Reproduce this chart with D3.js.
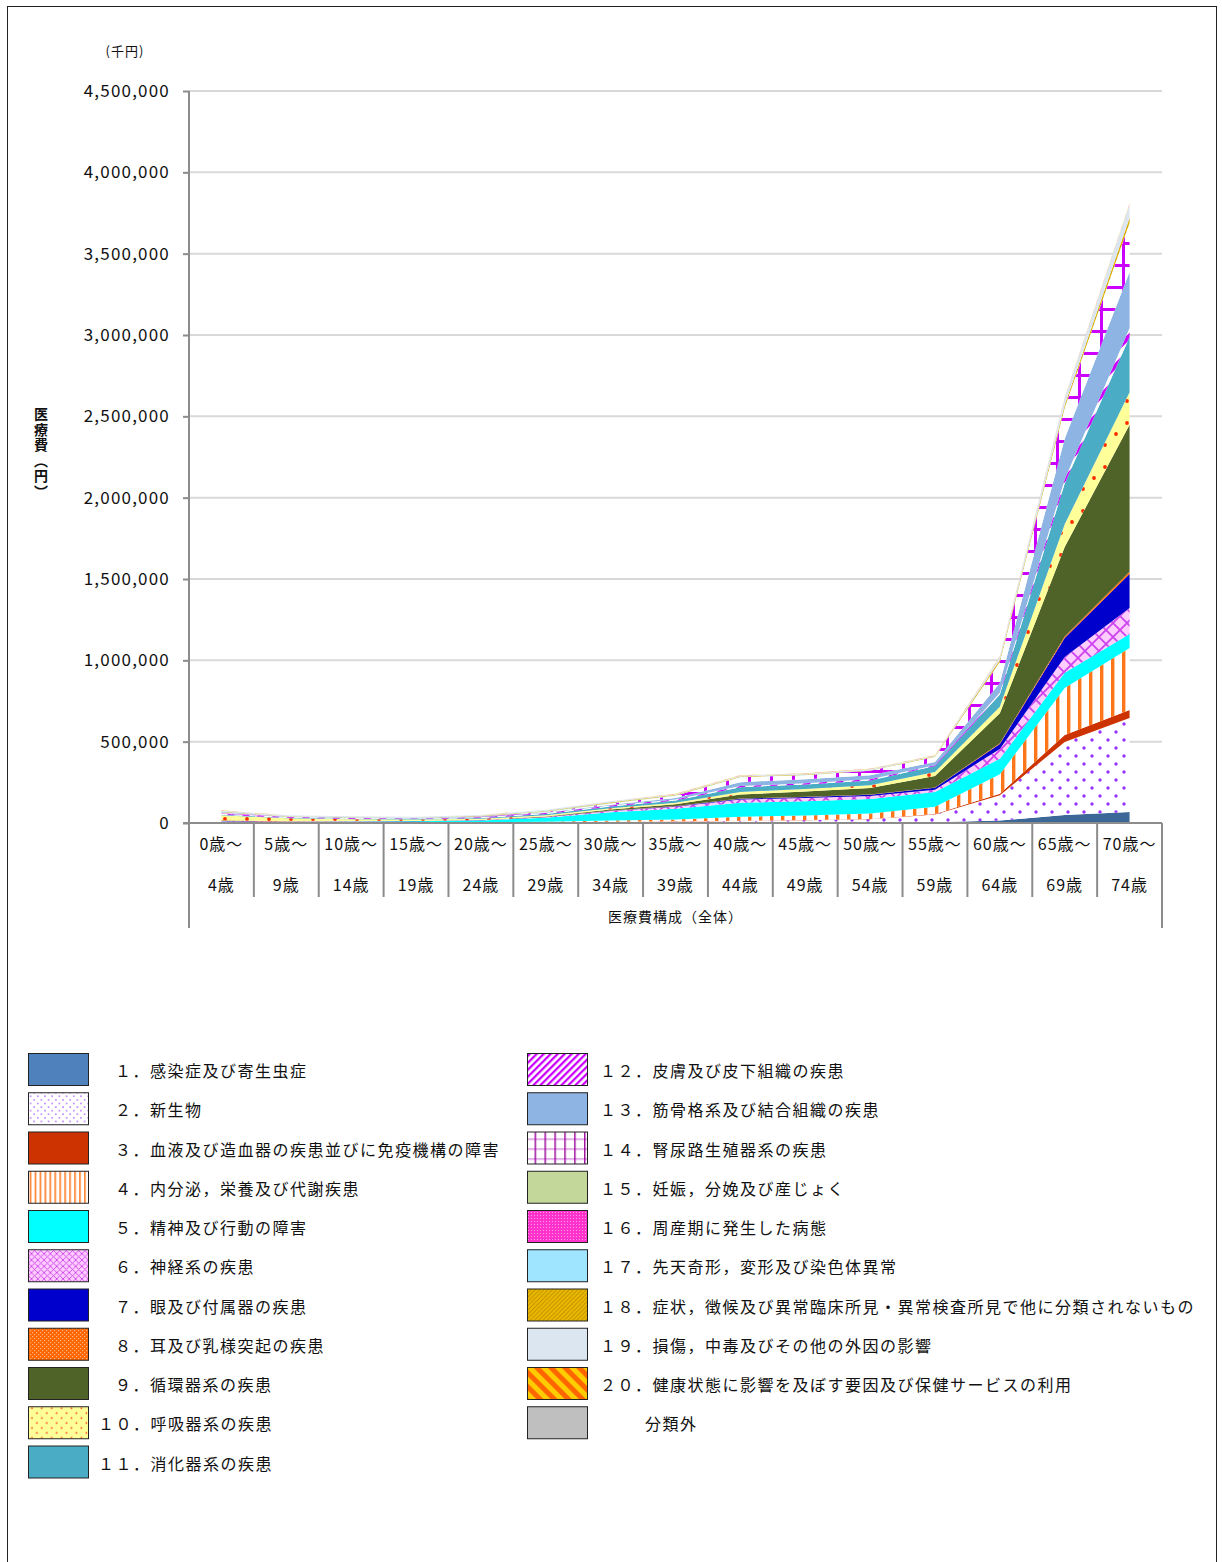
<!DOCTYPE html>
<html><head><meta charset="utf-8">
<script src="https://cdn.jsdelivr.net/npm/d3@7"></script>
<style>
body{margin:0;background:#fff;position:relative;}
svg{display:block;}
text{font-family:"Noto Sans CJK JP","Noto Sans",sans-serif;fill:#111;}
#ytitle{position:absolute;left:33px;top:407px;writing-mode:vertical-rl;font-family:"Noto Sans CJK JP",sans-serif;
  font-size:14px;font-weight:bold;letter-spacing:1.5px;line-height:16px;color:#111;}
</style></head><body>
<svg id="c" width="1222" height="1562"></svg>
<div id="ytitle"></div>
<script>
// ---------------- DATA ----------------
const categories = ["0-4","5-9","10-14","15-19","20-24","25-29","30-34","35-39","40-44","45-49","50-54","55-59","60-64","65-69","70-74"];
const catTop = ["0歳～","5歳～","10歳～","15歳～","20歳～","25歳～","30歳～","35歳～","40歳～","45歳～","50歳～","55歳～","60歳～","65歳～","70歳～"];
const catBottom = ["4歳","9歳","14歳","19歳","24歳","29歳","34歳","39歳","44歳","49歳","54歳","59歳","64歳","69歳","74歳"];
const yTicks = [0,500000,1000000,1500000,2000000,2500000,3000000,3500000,4000000,4500000];
const yTitle = "医療費（円）";

const seriesNames = [
 "１．感染症及び寄生虫症","２．新生物","３．血液及び造血器の疾患並びに免疫機構の障害","４．内分泌，栄養及び代謝疾患",
 "５．精神及び行動の障害","６．神経系の疾患","７．眼及び付属器の疾患","８．耳及び乳様突起の疾患","９．循環器系の疾患",
 "１０．呼吸器系の疾患","１１．消化器系の疾患","１２．皮膚及び皮下組織の疾患","１３．筋骨格系及び結合組織の疾患",
 "１４．腎尿路生殖器系の疾患","１５．妊娠，分娩及び産じょく","１６．周産期に発生した病態","１７．先天奇形，変形及び染色体異常",
 "１８．症状，徴候及び異常臨床所見・異常検査所見で他に分類されないもの","１９．損傷，中毒及びその他の外因の影響",
 "２０．健康状態に影響を及ぼす要因及び保健サービスの利用","分類外"];

const s01 = [3000,2000,1000,1000,1000,1000,2000,2000,3000,3000,3000,4000,15000,49000,68000];
const s02 = [1000,1000,1000,1000,1000,2000,5000,7000,10000,14000,20000,48000,155000,449000,578000];
const s03 = [1000,0,0,0,0,1000,1000,1000,1000,2000,2000,4000,10000,43000,49000];
const s04 = [1000,1000,2000,2000,2000,4000,8000,11000,25000,27000,33000,44000,120000,289000,381000];
const s05 = [1000,2000,4000,6000,12000,25000,50000,67000,85000,88000,90000,90000,95000,93000,86000];
const s06 = [3000,1000,1000,1000,1000,3000,8000,12000,20000,20000,18000,15000,60000,98000,160000];
const s07 = [3000,2000,1000,1000,1000,1000,2000,3000,5000,6000,8000,12000,30000,117000,209000];
const s08 = [3000,2000,1000,0,0,1000,1000,1000,1000,1000,1000,2000,5000,8000,14000];
const s09 = [1000,0,0,1000,1000,2000,6000,12000,25000,33000,40000,70000,185000,551000,903000];
const s10 = [30000,18000,12000,8000,7000,7000,8000,9000,16000,15000,17000,24000,40000,140000,200000];
const s11 = [4000,3000,3000,3000,5000,8000,10000,13000,29000,28000,30000,37000,75000,250000,340000];
const s12 = [6000,5000,4000,4000,5000,6000,6000,7000,7000,7000,7000,5000,10000,25000,55000];
const s13 = [1000,1000,2000,2000,2000,3000,5000,8000,24000,25000,25000,20000,60000,250000,345000];
const s14 = [2000,1000,1000,1000,2000,4000,8000,14000,30000,25000,27000,31000,130000,190000,300000];
const s15 = [0,0,0,1000,3000,5000,4000,2000,1000,0,0,0,0,0,0];
const s16 = [3000,0,0,0,0,0,0,0,0,0,0,0,0,0,0];
const s17 = [5000,1000,1000,0,0,1000,1000,1000,1000,1000,1000,1000,2000,2000,2000];
const s18 = [3000,1000,1000,1000,1000,2000,3000,3000,3000,3000,3000,3000,10000,15000,30000];
const s19 = [6000,6000,7000,6000,5000,5000,5000,6000,6000,7000,7000,5000,20000,45000,85000];
const s20 = [1000,0,0,0,0,1000,1000,1000,1000,1000,1000,1000,1000,2000,3000];
const s21 = [0,0,0,0,0,0,0,0,0,0,0,0,0,0,0];
const seriesValues = [s01,s02,s03,s04,s05,s06,s07,s08,s09,s10,s11,s12,s13,s14,s15,s16,s17,s18,s19,s20,s21];

// ---------------- STYLES ----------------
const solidChart = {0:"#3C6898",2:"#CC3300",4:"#00FFFF",6:"#0000CC",8:"#4F6228",10:"#4BACC6",12:"#8DB4E2",14:"#C4D79B",16:"#9FE5FF",18:"#DCE6F1",20:"#BFBFBF"};
const solidLegend = Object.assign({}, solidChart, {0:"#4F81BD"});

const svg = d3.select("#c");
const defs = svg.append("defs");
function pat(id,w,h,bg,rot){
  const p = defs.append("pattern").attr("id",id).attr("patternUnits","userSpaceOnUse").attr("width",w).attr("height",h);
  if(rot) p.attr("patternTransform",`rotate(${rot})`);
  if(bg) p.append("rect").attr("width",w).attr("height",h).attr("fill",bg);
  return p;
}
function buildPatterns(pre,k){
  let p;
  p = pat(pre+"1",16*k,16*k,"#fff");
  [[4,4],[12,12]].forEach(c=>p.append("circle").attr("cx",c[0]*k).attr("cy",c[1]*k).attr("r",Math.max(0.75,1.7*k)).attr("fill","#9933FF"));
  p = pat(pre+"3",11*k,10,"#fff");
  p.append("rect").attr("x",0).attr("width",Math.max(1.3,3.4*k)).attr("height",10).attr("fill","#FF761A");
  p = pat(pre+"5",14*k,14*k,"#FFCCFF");
  p.append("path").attr("d",`M0,0L${14*k},${14*k}M${14*k},0L0,${14*k}`).attr("stroke","#CC44EE").attr("stroke-width",Math.max(0.9,1.8*k));
  p = pat(pre+"7",4,4,"#FF6600");
  p.append("rect").attr("x",0).attr("y",0).attr("width",1.2).attr("height",1.2).attr("fill","#FFB27F");
  p.append("rect").attr("x",2).attr("y",2).attr("width",1.2).attr("height",1.2).attr("fill","#FFB27F");
  p = pat(pre+"9",22*k,22*k,"#FFFF99");
  [[5,5],[16,16]].forEach(c=>p.append("circle").attr("cx",c[0]*k).attr("cy",c[1]*k).attr("r",Math.max(0.7,1.9*k)).attr("fill","#FF2A00"));
  p = pat(pre+"11",11*k,11*k,"#fff",45);
  p.append("rect").attr("width",5*k).attr("height",11*k).attr("fill","#CC00FF");
  p = pat(pre+"13",22*k,22*k,"#fff");
  p.append("rect").attr("x",0).attr("y",0).attr("width",22*k).attr("height",Math.max(1,3*k)).attr("fill",k<1?"#D58BDD":"#CC00FF");
  p.append("rect").attr("x",0).attr("y",0).attr("width",Math.max(1.4,3*k)).attr("height",22*k).attr("fill",k<1?"#990099":"#CC00FF");
  p = pat(pre+"15",3,3,"#FF33CC");
  p.append("rect").attr("width",1).attr("height",1).attr("fill","#FF99E6");
  p = pat(pre+"17",3,3,"#E8B800",45);
  p.append("rect").attr("width",1).attr("height",3).attr("fill","#C69600");
  p = pat(pre+"19",10,10,"#FFCC00",-45);
  p.append("rect").attr("width",5).attr("height",10).attr("fill","#FF6600");
}
buildPatterns("pc",1);
buildPatterns("pl",0.45);
function fillFor(i,pre,solid){ return solid[i] ? solid[i] : `url(#${pre}${i})`; }

// ---------------- LAYOUT ----------------
svg.append("rect").attr("x",7.5).attr("y",6.5).attr("width",1209).attr("height",1600).attr("fill","none").attr("stroke","#222").attr("stroke-width",1);

const pLeft=189, pRight=1162, pTop=91, pBottom=823;
const x = d3.scalePoint().domain(categories).range([pLeft,pRight]).padding(0.5);
const step = x.step();
const y = d3.scaleLinear().domain([0,4500000]).range([pBottom,pTop]);

svg.append("g").selectAll("line").data(yTicks.filter(d=>d>0)).join("line")
  .attr("x1",pLeft).attr("x2",pRight).attr("y1",d=>y(d)).attr("y2",d=>y(d))
  .attr("stroke","#D9D9D9").attr("stroke-width",2);

const keys = seriesNames.map((d,i)=>i);
const rows = categories.map((c,j)=>{ const r={cat:c}; seriesValues.forEach((s,i)=>r[i]=s[j]); return r; });
const stacked = d3.stack().keys(keys)(rows);
const area = d3.area().x(d=>x(d.data.cat)).y0(d=>y(d[0])).y1(d=>y(d[1]));
svg.append("g").selectAll("path").data(stacked).join("path")
  .attr("d",area).attr("fill",(d,i)=>fillFor(i,"pc",solidChart));

const yAxis = d3.axisLeft(y).tickValues(yTicks).tickFormat(d3.format(",")).tickSize(6).tickPadding(13);
const gy = svg.append("g").attr("transform",`translate(${pLeft},0)`).call(yAxis);
gy.select(".domain").remove();
gy.selectAll(".tick line").attr("stroke","#8C8C8C").attr("stroke-width",2);
gy.selectAll(".tick text").attr("font-size",17).attr("letter-spacing","1.2px").attr("fill","#111")
  .style("font-family",'"Noto Sans CJK JP",sans-serif');

svg.append("line").attr("x1",pLeft).attr("x2",pLeft).attr("y1",pTop).attr("y2",928).attr("stroke","#8C8C8C").attr("stroke-width",2);
svg.append("line").attr("x1",pRight).attr("x2",pRight).attr("y1",pBottom).attr("y2",928).attr("stroke","#8C8C8C").attr("stroke-width",2);
svg.append("line").attr("x1",pLeft-6).attr("x2",pRight).attr("y1",pBottom).attr("y2",pBottom).attr("stroke","#8C8C8C").attr("stroke-width",2);
svg.append("g").selectAll("line").data(categories.slice(1)).join("line")
  .attr("x1",d=>x(d)-step/2).attr("x2",d=>x(d)-step/2).attr("y1",pBottom).attr("y2",897)
  .attr("stroke","#8C8C8C").attr("stroke-width",2);
const gx = svg.append("g");
gx.selectAll("text.t").data(categories).join("text").attr("class","t")
  .attr("x",d=>x(d)).attr("y",843).attr("text-anchor","middle").attr("dominant-baseline","central")
  .attr("font-size",16).attr("letter-spacing","1px").text((d,i)=>catTop[i]);
gx.selectAll("text.b").data(categories).join("text").attr("class","b")
  .attr("x",d=>x(d)).attr("y",884).attr("text-anchor","middle").attr("dominant-baseline","central")
  .attr("font-size",16).attr("letter-spacing","1px").text((d,i)=>catBottom[i]);
svg.append("text").attr("x",(pLeft+pRight)/2).attr("y",916).attr("text-anchor","middle").attr("dominant-baseline","central")
  .attr("font-size",14).attr("letter-spacing","1px").text("医療費構成（全体）");

svg.append("text").attr("x",125).attr("y",50).attr("text-anchor","middle").attr("dominant-baseline","central")
  .attr("font-size",13).attr("letter-spacing","1px").text("(千円)");
d3.select("#ytitle").text(yTitle);

const leg = svg.append("g");
const rowStep = 39.25, row0 = 1069;
seriesNames.forEach((name,i)=>{
  const col = i<11 ? 0 : 1;
  const r = i<11 ? i : i-11;
  const cy = row0 + r*rowStep;
  const sx = col===0 ? 28 : 527;
  leg.append("rect").attr("x",sx+0.5).attr("y",cy-16+0.5).attr("width",60).attr("height",32)
    .attr("fill",fillFor(i,"pl",solidLegend)).attr("stroke","#222").attr("stroke-width",1);
  let tx;
  if(col===0) tx = (i>=9) ? 98 : 115;
  else tx = (i===20) ? 645 : 600;
  leg.append("text").attr("x",tx).attr("y",cy+1).attr("dominant-baseline","central")
    .attr("font-size",16).attr("letter-spacing","1.5px").text(name);
});
</script>
</body></html>
